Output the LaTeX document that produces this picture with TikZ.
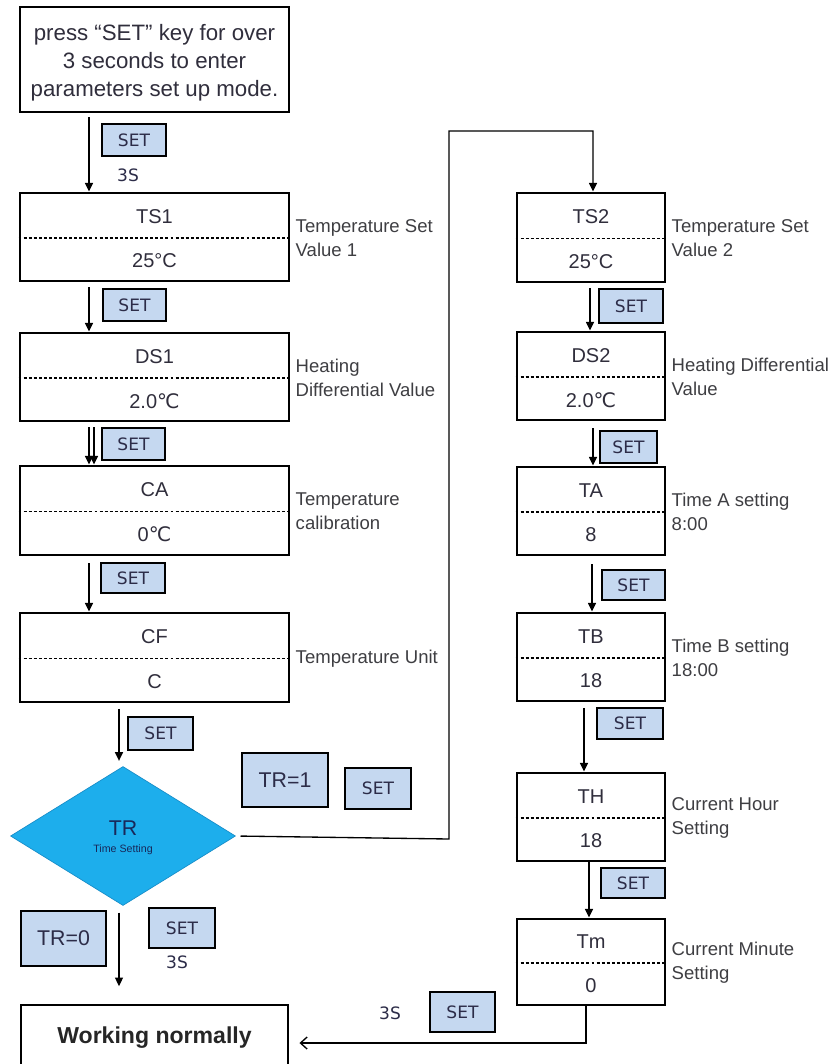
\documentclass[tikz,border=0pt]{standalone}
\usepackage{fontspec}
\setmainfont{Liberation Sans}
\newfontfamily\djv{DejaVu Sans}
\usetikzlibrary{arrows.meta,calc,shapes.geometric}
\definecolor{setblue}{RGB}{197,216,240}
\definecolor{diablue}{RGB}{29,174,236}
\definecolor{diaedge}{RGB}{22,140,200}
\definecolor{txtdark}{RGB}{48,46,60}
\definecolor{lblgray}{RGB}{62,62,66}
\definecolor{settext}{RGB}{44,44,72}
\definecolor{trnavy}{RGB}{24,40,90}
\tikzset{
  stbox/.style={draw, line width=2.2pt, fill=white, inner sep=0pt},
  divider/.style={line width=0.9pt, dash pattern=on 2.2pt off 1.6pt},
  valtext/.style={inner sep=0pt, text=txtdark, font=\fontsize{15}{18}\selectfont},
  lbl/.style={inner sep=0pt, anchor=west, align=left, text=lblgray, font=\fontsize{13.9}{18}\selectfont},
  setbox/.style={draw, line width=2.2pt, fill=setblue, inner sep=0pt, text=settext, font=\djv\fontsize{12.8}{14}\selectfont},
  trbox/.style={draw, line width=2.2pt, fill=setblue, inner sep=0pt, text=settext, font=\fontsize{16}{19}\selectfont},
  smalltxt/.style={inner sep=0pt, text=settext, font=\djv\fontsize{12.8}{14}\selectfont},
  arr/.style={line width=1pt, -{Triangle[length=6.5pt,width=6pt]}},
  conn/.style={line width=1pt},
  barb/.style={line width=1pt, -{Straight Barb[length=5pt,width=9pt]}},
}
\newcommand\stateb[8]{%
  \node[stbox, minimum width=#4pt, minimum height=#5pt] (#1) at (#2,#3) {};
  \draw[divider] ($(#1.west)+(0,1)$) -- ($(#1.east)+(0,1)$);
  \node[valtext] (#1-t) at ($(#1.center)+(0,-20.5)$) {#6};
  \node[valtext] (#1-b) at ($(#1.center)+(0,24)$) {#7};
  \node[lbl] (#1-l) at ($(#1.east)+(5,1)$) {#8};
}
\begin{document}
\begin{tikzpicture}[x=0.75pt,y=-0.75pt]
\useasboundingbox (0,0) rectangle (830,1064);
\clip (0,0) rectangle (830,1064);
\fill[white] (0,0) rectangle (830,1064);

% start box
\node[stbox, minimum width=201.75pt, minimum height=78.75pt] (top) at (154.5,59.5) {};
\node[inner sep=0pt, align=center, text=txtdark, font=\fontsize{16.7}{21}\selectfont] (top-t) at (154.5,63)
  {press “SET” key for over\\3 seconds to enter\\parameters set up mode.};

% left column
\stateb{ts1}{154.5}{237}{201.75}{66}{TS1}{25°C}{Temperature Set\\Value 1}
\stateb{ds1}{154.5}{377}{201.75}{66}{DS1}{2.0{\djv ℃}}{Heating\\Differential Value}
\stateb{ca}{154.5}{510.5}{201.75}{66.75}{CA}{0{\djv ℃}}{Temperature\\calibration}
\stateb{cf}{154.5}{657.5}{201.75}{66.75}{CF}{C}{Temperature Unit}

% right column
\stateb{ts2}{591}{237.5}{111}{66.75}{TS2}{25°C}{Temperature Set\\Value 2}
\stateb{ds2}{591}{376}{111}{66}{DS2}{2.0{\djv ℃}}{Heating Differential\\Value}
\stateb{ta}{591}{511}{111}{66}{TA}{8}{Time A setting\\8:00}
\stateb{tb}{591}{657}{111}{66}{TB}{18}{Time B setting\\18:00}
\stateb{th}{591}{817}{111}{66}{TH}{18}{Current Hour\\Setting}
\stateb{tm}{591}{962}{111}{64.5}{Tm}{0}{Current Minute\\Setting}

% decision
\node[diamond, fill=diablue, draw=diaedge, line width=0.5pt, minimum width=168.75pt, minimum height=104.25pt, inner sep=0pt] (tr) at (123,836) {};
\node[inner sep=0pt, text=trnavy, font=\fontsize{16}{18}\selectfont] (tr-t) at (123,828.5) {TR};
\node[inner sep=0pt, text=trnavy, font=\fontsize{8}{9}\selectfont] (tr-s) at (123,850) {Time Setting};

% working normally
\node[stbox, minimum width=200.25pt, minimum height=60pt] (wn) at (154.5,1045) {};
\node[inner sep=0pt, text=black!85, font=\bfseries\fontsize{17.3}{20}\selectfont] (wn-t) at (154.5,1038) {Working normally};

% SET keys
\node[setbox, minimum width=48pt, minimum height=24pt] (s0) at (134,140) {SET};
\node[smalltxt] (t0) at (128,175) {3S};
\node[setbox, minimum width=47.25pt, minimum height=24pt] (s1) at (134.5,305) {SET};
\node[setbox, minimum width=47.25pt, minimum height=24pt] (s2) at (133.5,444) {SET};
\node[setbox, minimum width=48pt, minimum height=22.5pt] (s3) at (133,578) {SET};
\node[setbox, minimum width=48.75pt, minimum height=24.75pt] (s4) at (160.5,733.5) {SET};
\node[trbox, minimum width=64.5pt, minimum height=40.5pt] (tr1) at (285,780) {TR=1};
\node[setbox, minimum width=49.5pt, minimum height=30.75pt] (s5) at (378,788.5) {SET};
\node[trbox, minimum width=63.75pt, minimum height=41.25pt] (tr0) at (63.5,938.5) {TR=0};
\node[setbox, minimum width=49.5pt, minimum height=30pt] (s6) at (182,928) {SET};
\node[smalltxt] (t6) at (177,962) {3S};
\node[setbox, minimum width=48.75pt, minimum height=30pt] (s7) at (462.5,1012) {SET};
\node[smalltxt] (t7) at (390,1013) {3S};
\node[setbox, minimum width=48pt, minimum height=25.5pt] (s8) at (631,306) {SET};
\node[setbox, minimum width=42.75pt, minimum height=24pt] (s9) at (628.5,447) {SET};
\node[setbox, minimum width=47.25pt, minimum height=22.5pt] (s10) at (633.5,585) {SET};
\node[setbox, minimum width=49.5pt, minimum height=23.25pt] (s11) at (630,723.5) {SET};
\node[setbox, minimum width=48pt, minimum height=22.5pt] (s12) at (633,883) {SET};

% connector x positions
\coordinate (xa) at (89,0);
\coordinate (xb) at (94,0);
\coordinate (xc) at (119,0);
\coordinate (xr0) at (593,0);
\coordinate (xr1) at (590,0);
\coordinate (xr2) at (593,0);
\coordinate (xr3) at (592,0);
\coordinate (xr4) at (584,0);
\coordinate (xr5) at (589,0);
\coordinate (j1) at (449,839);
\coordinate (j2) at (449,131);
\coordinate (j3) at (586,1043);

% left column arrows
\draw[arr, shorten <=3pt] (top.south -| xa) -- (ts1.north -| xa);
\draw[arr, shorten <=3.5pt] (ts1.south -| xa) -- (ds1.north -| xa);
\draw[arr, shorten <=3.5pt] (ds1.south -| xa) -- (ca.north -| xa);
\draw[arr, shorten <=3.5pt] (ds1.south -| xb) -- (ca.north -| xb);
\draw[arr, shorten <=5pt] (ca.south -| xa) -- (cf.north -| xa);
\draw[arr, shorten <=4pt, shorten >=4pt] (cf.south -| xc) -- (tr.north -| xc);
\draw[arr, shorten <=5pt, shorten >=13pt] (tr.south -| xc) -- (wn.north -| xc);

% TR=1 branch
\draw[arr, shorten <=3.5pt] (tr.east) -- (j1) -- (j2) -- (j2 -| xr0) -- (ts2.north -| xr0);

% right column arrows
\draw[arr, shorten <=3.5pt] (ts2.south -| xr1) -- (ds2.north -| xr1);
\draw[arr, shorten <=5pt] (ds2.south -| xr2) -- (ta.north -| xr2);
\draw[arr, shorten <=6pt] (ta.south -| xr3) -- (tb.north -| xr3);
\draw[arr, shorten <=4pt] (tb.south -| xr4) -- (th.north -| xr4);
\draw[arr] (th.south -| xr5) -- (tm.north -| xr5);

% back to working normally
\draw[barb, shorten >=7.5pt] (tm.south -| j3) -- (j3) -- (wn.east |- j3);
\end{tikzpicture}
\end{document}
